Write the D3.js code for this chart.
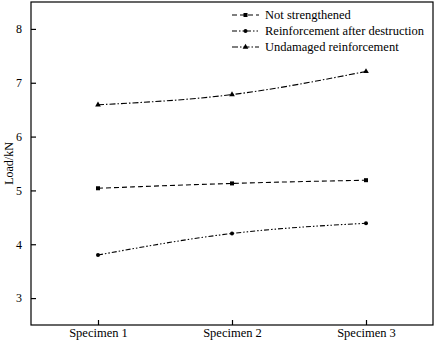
<!DOCTYPE html>
<html>
<head>
<meta charset="utf-8">
<script src="https://cdn.jsdelivr.net/npm/d3@7"></script>
<style>
  body { margin: 0; background: #fff; }
  svg { display: block; }
</style>
</head>
<body>
<div id="chart"></div>
<script>
// data
const specimens = ["Specimen 1", "Specimen 2", "Specimen 3"];
const notStrengthened = [5.04, 5.13, 5.19];
const afterDestruction = [3.8, 4.2, 4.39];
const undamaged = [6.59, 6.78, 7.21];
const yTicks = [3, 4, 5, 6, 7, 8];

const series = [
  { name: "Not strengthened", values: notStrengthened, dash: "5,3", marker: "square" },
  { name: "Reinforcement after destruction", values: afterDestruction, dash: "5,2,1.5,2,1.5,2", marker: "circle" },
  { name: "Undamaged reinforcement", values: undamaged, dash: "6,2,1.5,2", marker: "triangle" }
];

const width = 436, height = 345;
const margin = { top: 2, right: 3, bottom: 20, left: 31 };
const font = "'Liberation Serif', 'Times New Roman', serif";

const svg = d3.select("#chart").append("svg")
  .attr("width", width)
  .attr("height", height)
  .attr("font-family", font);

const x = d3.scalePoint()
  .domain(specimens)
  .range([margin.left, width - margin.right])
  .padding(0.5);

const y = d3.scaleLinear()
  .domain([2.5, 8.5])
  .range([height - margin.bottom, margin.top]);

// frame
svg.append("rect")
  .attr("x", margin.left)
  .attr("y", margin.top)
  .attr("width", width - margin.left - margin.right)
  .attr("height", height - margin.top - margin.bottom)
  .attr("fill", "none")
  .attr("stroke", "#000")
  .attr("stroke-width", 1.2);

// y axis, ticks point inward
svg.append("g")
  .attr("transform", `translate(${margin.left},0)`)
  .call(d3.axisLeft(y).tickValues(yTicks).tickFormat(d3.format("d"))
    .tickSizeInner(-5).tickSizeOuter(0).tickPadding(9))
  .attr("font-family", font)
  .call(g => g.select(".domain").remove())
  .call(g => g.selectAll("line").attr("stroke-width", 1.2))
  .call(g => g.selectAll("text").attr("font-size", 12).attr("fill", "#000"));

// x axis
svg.append("g")
  .attr("transform", `translate(0,${height - margin.bottom})`)
  .call(d3.axisBottom(x).tickSizeInner(-5).tickSizeOuter(0).tickPadding(9))
  .attr("font-family", font)
  .call(g => g.select(".domain").remove())
  .call(g => g.selectAll("line").attr("stroke-width", 1.2))
  .call(g => g.selectAll("text").attr("font-size", 12.5).attr("fill", "#000").attr("dy", "0.2em"));

svg.append("text")
  .attr("transform", `translate(9,${(margin.top + height - margin.bottom) / 2}) rotate(-90)`)
  .attr("text-anchor", "middle")
  .attr("dy", "0.35em")
  .attr("font-size", 12)
  .text("Load/kN");

const line = d3.line()
  .x((d, i) => x(specimens[i]))
  .y(d => y(d))
  .curve(d3.curveMonotoneX);

function drawMarker(g, type, cx, cy) {
  if (type === "square") {
    g.append("rect").attr("x", cx - 2).attr("y", cy - 2).attr("width", 4).attr("height", 4).attr("fill", "#000");
  } else if (type === "circle") {
    g.append("circle").attr("cx", cx).attr("cy", cy).attr("r", 2).attr("fill", "#000");
  } else {
    g.append("path")
      .attr("d", d3.symbol(d3.symbolTriangle, 14)())
      .attr("transform", `translate(${cx},${cy})`)
      .attr("fill", "#000");
  }
}

series.forEach(s => {
  const g = svg.append("g");
  g.append("path")
    .datum(s.values)
    .attr("fill", "none")
    .attr("stroke", "#000")
    .attr("stroke-width", 1.1)
    .attr("stroke-dasharray", s.dash)
    .attr("d", line);
  s.values.forEach((v, i) => drawMarker(g, s.marker, x(specimens[i]), y(v)));
});

// legend
const legend = svg.append("g").attr("transform", "translate(232,15)");
series.forEach((s, i) => {
  const row = legend.append("g").attr("transform", `translate(0,${i * 16})`);
  row.append("line")
    .attr("x1", 0).attr("x2", 27)
    .attr("stroke", "#000")
    .attr("stroke-width", 1.1)
    .attr("stroke-dasharray", s.dash);
  drawMarker(row, s.marker, 13.5, 0);
  row.append("text")
    .attr("x", 33)
    .attr("dy", "0.35em")
    .attr("font-size", 12.5)
    .text(s.name);
});
</script>
</body>
</html>
